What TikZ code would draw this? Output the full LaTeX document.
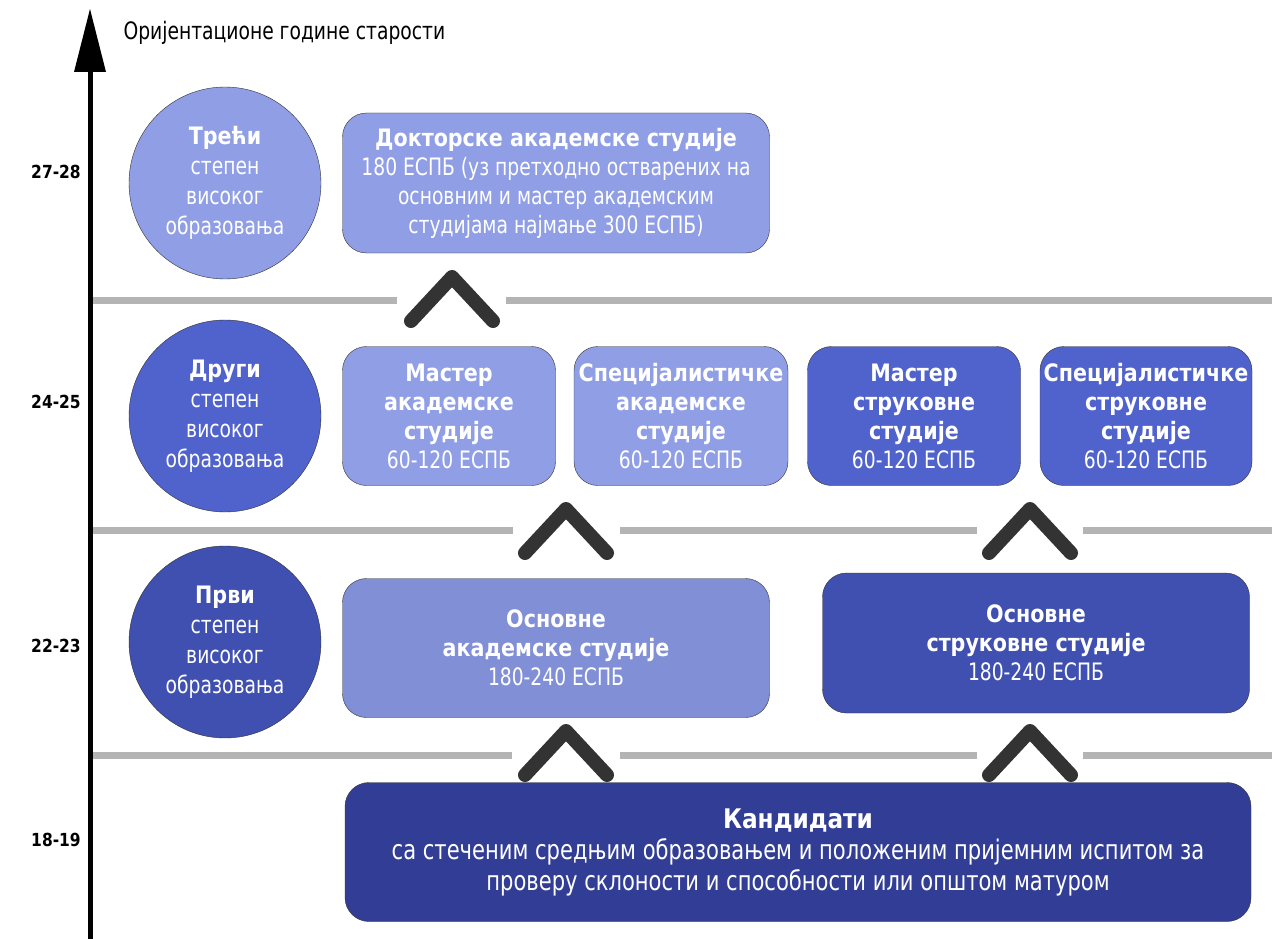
\documentclass[tikz,border=0pt]{standalone}
\usepackage{fontspec}
\setmainfont{DejaVu Sans}[FakeStretch=0.78,BoldFeatures={FakeStretch=0.86}]

\tikzset{	PixGrid/.style={x={(1pt,0pt)},y={(0pt,-1pt)}},
	stage/.style={circle,minimum size=192pt,inner sep=0pt,draw=black!80,thin,
				text=white,align=center,font=\fontsize{24}{30}\selectfont},
	study/.style={rectangle,rounded corners=24pt,inner sep=0pt,draw=black!80,thin,
				text=white,align=center,font=\fontsize{24}{29}\selectfont},
	agemark/.style={font=\bfseries\fontsize{18}{22}\selectfont},
	sepline/.style={lineGray,line width=7pt},
	chevron/.style={chevGray,line width=14pt,line cap=round,line join=round}
				}
\definecolor{lilacT}{RGB}{143,158,229}
\definecolor{lilacO}{RGB}{128,143,214}
\definecolor{blueM}{RGB}{80,98,204}
\definecolor{blueD}{RGB}{64,80,176}
\definecolor{blueK}{RGB}{50,62,150}
\definecolor{chevGray}{RGB}{51,51,51}
\definecolor{lineGray}{RGB}{180,180,180}

\begin{document}
\begin{tikzpicture}[PixGrid]
	\useasboundingbox[fill=white] (0,0) rectangle (1272,939);

	% achse
	\draw[black,line width=5pt] (90,939)--(90,68);
	\fill[black] (90,9)--(74,72)--(106,72)--cycle;
	\node[anchor=west,font=\fontsize{24}{28}\selectfont] (titel) at (120,33) {Оријентационе године старости};

	\node[agemark] (a2728) at (56,172) {27-28};
	\node[agemark] (a2425) at (56,402) {24-25};
	\node[agemark] (a2223) at (56,646) {22-23};
	\node[agemark] (a1819) at (56,840) {18-19};

	% trennlinien
	\draw[sepline] (93,300)--(397,300);
	\draw[sepline] (506,300)--(1272,300);
	\draw[sepline] (93,530)--(513,530);
	\draw[sepline] (620,530)--(977,530);
	\draw[sepline] (1083,530)--(1272,530);
	\draw[sepline] (93,755)--(512,755);
	\draw[sepline] (620,755)--(977,755);
	\draw[sepline] (1083,755)--(1272,755);

	\draw[chevron] (411,321)--(452,277)--(493,321);
	\draw[chevron] (525,553)--(566,509)--(607,553);
	\draw[chevron] (989,553)--(1030,509)--(1071,553);
	\draw[chevron] (525,775)--(566,731)--(607,775);
	\draw[chevron] (989,775)--(1030,731)--(1071,775);

	% stufen
	\node[stage,fill=lilacT] (treci) at (225,183) {\textbf{Трећи}\\степен\\високог\\образовања};
	\node[stage,fill=blueM] (drugi) at (225,416) {\textbf{Други}\\степен\\високог\\образовања};
	\node[stage,fill=blueD] (prvi) at (225,642) {\textbf{Први}\\степен\\високог\\образовања};

	% studien
	\node[study,fill=lilacT,minimum width=427pt,minimum height=140pt] (dok) at (556,183)
		{\textbf{Докторске академске студије}\\180 ЕСПБ (уз претходно остварених на\\основним и мастер академским\\студијама најмање 300 ЕСПБ)};
	\node[study,fill=lilacT,minimum width=213pt,minimum height=139pt] (mastA) at (449,416)
		{\textbf{Мастер}\\\textbf{академске}\\\textbf{студије}\\60-120 ЕСПБ};
	\node[study,fill=lilacT,minimum width=214pt,minimum height=139pt] (specA) at (681,416)
		{\textbf{Специјалистичке}\\\textbf{академске}\\\textbf{студије}\\60-120 ЕСПБ};
	\node[study,fill=blueM,minimum width=213pt,minimum height=139pt] (mastS) at (914,416)
		{\textbf{Мастер}\\\textbf{струковне}\\\textbf{студије}\\60-120 ЕСПБ};
	\node[study,fill=blueM,minimum width=212pt,minimum height=139pt] (specS) at (1146,416)
		{\textbf{Специјалистичке}\\\textbf{струковне}\\\textbf{студије}\\60-120 ЕСПБ};
	\node[study,fill=lilacO,minimum width=427pt,minimum height=139pt] (osnA) at (556,648)
		{\textbf{Основне}\\\textbf{академске студије}\\180-240 ЕСПБ};
	\node[study,fill=blueD,minimum width=427pt,minimum height=140pt] (osnS) at (1036,643)
		{\textbf{Основне}\\\textbf{струковне студије}\\180-240 ЕСПБ};
	\node[study,fill=blueK,minimum width=906pt,minimum height=139pt,font=\fontsize{27}{31}\selectfont] (kand) at (798,852)
		{\textbf{Кандидати}\\са стеченим средњим образовањем и положеним пријемним испитом за\\проверу склоности и способности или општом матуром};
\end{tikzpicture}
\end{document}
